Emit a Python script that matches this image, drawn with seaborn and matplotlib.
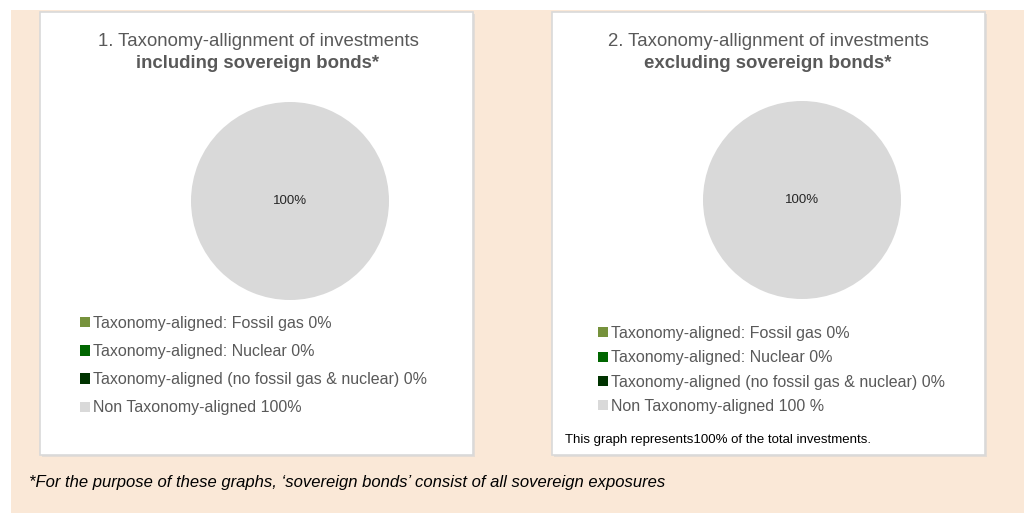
import matplotlib
matplotlib.use("Agg")
import matplotlib.pyplot as plt
from matplotlib.patches import Rectangle, Patch
import seaborn as sns

categories = [
    "Taxonomy-aligned: Fossil gas",
    "Taxonomy-aligned: Nuclear",
    "Taxonomy-aligned (no fossil gas & nuclear)",
    "Non Taxonomy-aligned",
]
incl_sovereign = [0, 0, 0, 100]
excl_sovereign = [0, 0, 0, 100]
labels_incl = ["Taxonomy-aligned: Fossil gas 0%", "Taxonomy-aligned: Nuclear 0%",
               "Taxonomy-aligned (no fossil gas & nuclear) 0%", "Non Taxonomy-aligned 100%"]
labels_excl = ["Taxonomy-aligned: Fossil gas 0%", "Taxonomy-aligned: Nuclear 0%",
               "Taxonomy-aligned (no fossil gas & nuclear) 0%", "Non Taxonomy-aligned 100 %"]
colors = ["#76923C", "#006600", "#003300", "#D9D9D9"]

sns.set_style("white")
plt.rcParams["font.family"] = ["Liberation Sans", "DejaVu Sans"]

fig = plt.figure(figsize=(10.24, 5.15), dpi=100)
W, H = 1024, 515


def px(x, y, w, h):
    return [x / W, 1 - (y + h) / H, w / W, h / H]


# beige background
fig.patches.append(Rectangle((11 / W, 2 / H), 1 - 11 / W, 1 - 12 / H, transform=fig.transFigure,
                             facecolor="#FAE8D7", edgecolor="none", zorder=0))

# white panels with light grey frame
for x0 in [40, 552]:
    fig.patches.append(Rectangle((x0 / W + 1.5 / W, 1 - 457 / H), 433 / W, 443 / H,
                                 transform=fig.transFigure, facecolor="#E3DCD6",
                                 edgecolor="none", zorder=1))
    fig.patches.append(Rectangle((x0 / W, 1 - 455 / H), 433 / W, 443 / H,
                                 transform=fig.transFigure, facecolor="white",
                                 edgecolor="#D9D9D9", linewidth=1.2, zorder=2))

title_color = "#595959"


def draw_pie(rect, values, cx, title1, title2, labels, leg_y, leg_x, spacing):
    ax = fig.add_axes(rect)
    ax.set_zorder(3)
    wedges, texts, autotexts = ax.pie(
        values, colors=colors, startangle=90, counterclock=False,
        autopct=lambda p: f"{p:.0f}%" if p > 0 else "", pctdistance=0.0,
        wedgeprops=dict(linewidth=0), textprops=dict(fontsize=9.5, color="#262626"))
    ax.set_xlim(-1, 1)
    ax.set_ylim(-1, 1)
    ax.set_aspect("equal")
    fig.text(cx / W, 1 - 42 / H, title1, ha="center", va="center", fontsize=13.4,
             color=title_color, zorder=4)
    fig.text(cx / W, 1 - 63 / H, title2, ha="center", va="center", fontsize=13.4,
             color=title_color, fontweight="bold", zorder=4)
    handles = [Patch(facecolor=c, edgecolor="none") for c in colors]
    leg = fig.legend(handles, labels, loc="upper left",
                     bbox_to_anchor=(leg_x / W, 1 - leg_y / H), frameon=False,
                     fontsize=11.5, handlelength=0.6, handleheight=0.6,
                     handletextpad=0.2, labelspacing=spacing, borderaxespad=0,
                     borderpad=0)
    for t in leg.get_texts():
        t.set_color(title_color)
    leg.set_zorder(5)
    return ax


draw_pie(px(191, 102, 198, 198), incl_sovereign, 258,
         "1. Taxonomy-allignment of investments", "including sovereign bonds*",
         labels_incl, 316, 80, 0.82)
draw_pie(px(703, 101, 198, 198), excl_sovereign, 768,
         "2. Taxonomy-allignment of investments", "excluding sovereign bonds*",
         labels_excl, 326, 598, 0.58)

fig.text(565 / W, 1 - 440 / H, "This graph represents100% of the total investments.",
         ha="left", va="center", fontsize=9.5, color="black", zorder=4)

fig.text(29 / W, 1 - 482 / H,
         "*For the purpose of these graphs, \u2018sovereign bonds\u2019 consist of all sovereign exposures",
         ha="left", va="center", fontsize=12, style="italic", color="black", zorder=4)

fig.savefig("out.png", dpi=100)
